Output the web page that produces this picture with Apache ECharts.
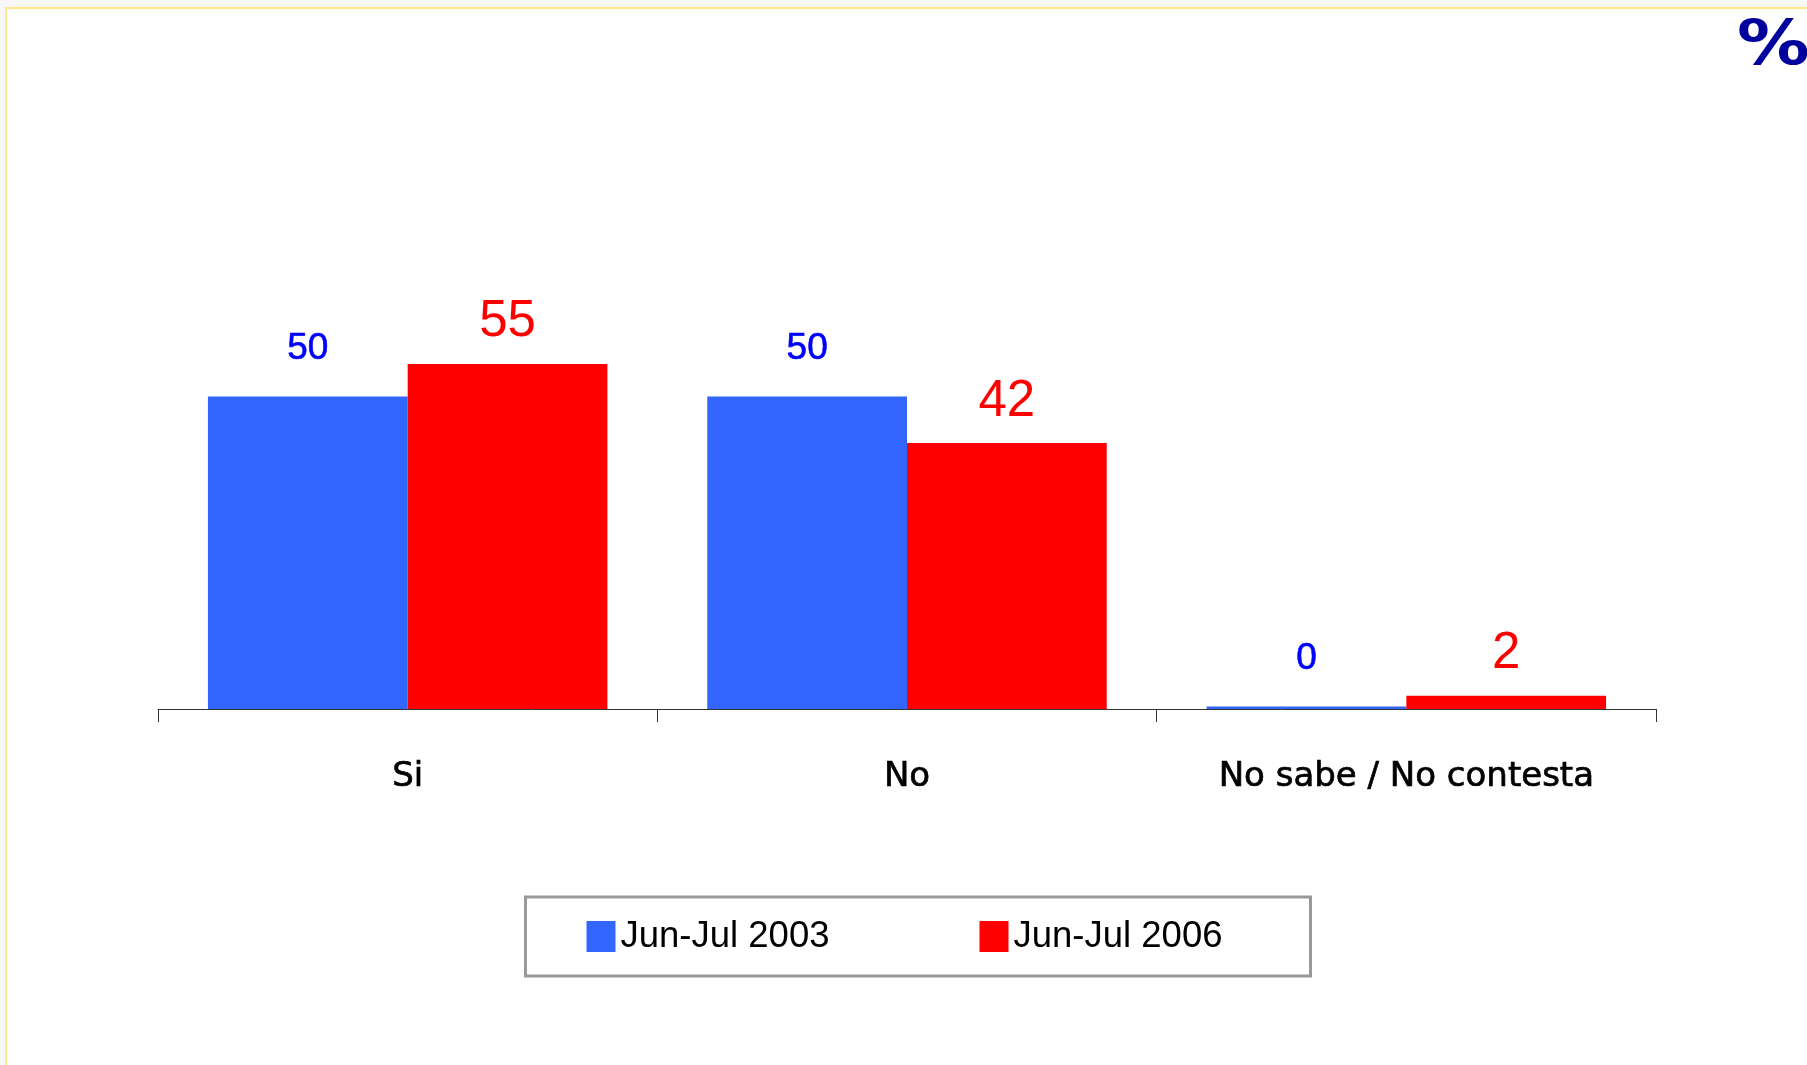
<!DOCTYPE html>
<html>
<head>
<meta charset="utf-8">
<script src="https://cdn.jsdelivr.net/npm/echarts@6/dist/echarts.min.js"></script>
<style>
  html, body { margin: 0; padding: 0; background: #f7f7f7; }
  #chart { width: 1807px; height: 1065px; }
</style>
</head>
<body>
<div id="chart"></div>
<script>
// Data
const categories = ['Si', 'No', 'No sabe / No contesta'];
const seriesNames = ['Jun-Jul 2003', 'Jun-Jul 2006'];
const values2003 = [49.8, 49.8, 0.4];
const values2006 = [55.0, 42.4, 2.1];

const chart = echarts.init(document.getElementById('chart'));

const labelFmt = p => String(Math.round(p.value));

chart.setOption({
  backgroundColor: '#f7f7f7',
  animation: false,
  graphic: [
    {
      type: 'rect', z: -10, silent: true,
      shape: { x: 6, y: 8, width: 1900, height: 1200 },
      style: { fill: '#ffffff', stroke: '#ffe88c', lineWidth: 2 }
    },
    {
      type: 'text', x: 1737, y: 16, scaleX: 1.15, silent: true,
      style: {
        text: '%', fill: '#00009c',
        font: 'bold 63px "DejaVu Sans"',
        verticalAlign: 'top'
      }
    }
  ],
  grid: { left: 158, right: 151, top: 207, bottom: 356, containLabel: false },
  xAxis: {
    type: 'category',
    data: categories,
    axisLine: { show: true, lineStyle: { color: '#333333', width: 1 } },
    axisTick: { show: true, length: 13, lineStyle: { color: '#333333', width: 1 } },
    axisLabel: {
      margin: 51,
      color: '#000000',
      fontFamily: 'DejaVu Sans',
      fontSize: 34,
      textBorderColor: '#000000',
      textBorderWidth: 0.7
    }
  },
  yAxis: {
    type: 'value', min: 0, max: 80, show: false,
    splitLine: { show: false }
  },
  legend: {
    data: seriesNames,
    left: 525.5, top: 897,
    orient: 'horizontal',
    itemWidth: 29, itemHeight: 31, itemGap: 150,
    padding: [21, 88, 21, 61],
    borderColor: '#999999', borderWidth: 3,
    backgroundColor: '#ffffff',
    icon: 'rect',
    textStyle: { fontFamily: 'Liberation Sans', fontSize: 36.5, color: '#000000' }
  },
  series: [
    {
      name: seriesNames[0], type: 'bar', data: values2003,
      barGap: '0%', barCategoryGap: '20%',
      itemStyle: { color: '#3366ff' },
      label: {
        show: true, position: 'top', distance: 29,
        formatter: labelFmt,
        color: '#0000ff', fontFamily: 'Liberation Sans', fontSize: 37,
        textBorderColor: '#0000ff', textBorderWidth: 0.6
      }
    },
    {
      name: seriesNames[1], type: 'bar', data: values2006,
      barGap: '0%', barCategoryGap: '20%',
      itemStyle: { color: '#ff0000' },
      label: {
        show: true, position: 'top', distance: 16,
        formatter: labelFmt,
        color: '#ff0000', fontFamily: 'Liberation Sans', fontSize: 51
      }
    }
  ]
});
</script>
</body>
</html>
